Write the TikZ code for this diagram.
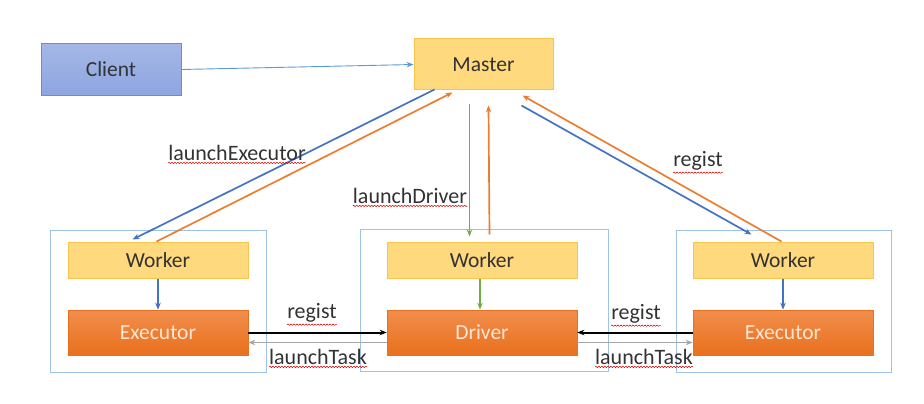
\documentclass[tikz,border=0pt]{standalone}
\usepackage{fontspec}
\setmainfont{Carlito}
\usetikzlibrary{arrows.meta,calc,decorations.pathmorphing}
\definecolor{txt}{HTML}{333333}
\definecolor{clientfill}{HTML}{8EA5E0}
\definecolor{clientdraw}{HTML}{6F8BD0}
\definecolor{mfill}{HTML}{FFD97E}
\definecolor{mdraw}{HTML}{F7C44E}
\definecolor{efill}{HTML}{EF7A2C}
\definecolor{edraw}{HTML}{E9701E}
\definecolor{etext}{HTML}{FCE6D6}
\definecolor{outer}{HTML}{9DC3E6}
\definecolor{cblue}{HTML}{4472C4}
\definecolor{corange}{HTML}{ED7D31}
\definecolor{cgreen}{HTML}{70AD47}
\definecolor{clight}{HTML}{5B9BD5}
\definecolor{cgray}{HTML}{A6A6A6}
\tikzset{
  x=1pt, y=-1pt,
  boxtext/.style={font=\fontsize{21.5}{25}\selectfont},
  clientbox/.style={boxtext, draw=clientdraw, line width=1pt, top color=clientfill!80!white, bottom color=clientfill, text=txt, minimum width=140pt, minimum height=51pt, inner sep=0pt},
  masterbox/.style={boxtext, draw=mdraw, line width=1pt, fill=mfill, text=txt, minimum width=139pt, minimum height=51pt, inner sep=0pt},
  workerbox/.style={boxtext, draw=mdraw, line width=1pt, fill=mfill, text=txt, minimum height=36pt, inner sep=0pt},
  execbox/.style={boxtext, draw=edraw, line width=0.6pt, top color=efill!85!white, bottom color=edraw, text=etext, minimum height=45pt, inner sep=0pt},
  outerbox/.style={draw=outer, line width=1pt, fill=none, inner sep=0pt},
  lbl/.style={font=\fontsize{22}{26}\selectfont, text=txt, inner sep=1pt},
  squig/.style={draw=red!85!black, line width=0.5pt, decorate, decoration={snake, amplitude=0.7pt, segment length=3pt}},
  tip/.style={-{Stealth[length=7pt,width=5.5pt]}},
  bluearrow/.style={tip, draw=cblue, line width=1.7pt},
  orangearrow/.style={tip, draw=corange, line width=1.7pt},
  greenarrow/.style={tip, draw=cgreen, line width=1.7pt},
  blackarrow/.style={tip, draw=black, line width=2pt},
  grayarrow/.style={tip, draw=cgray, line width=1.2pt},
  lightarrow/.style={tip, draw=clight, line width=0.9pt}
}
\begin{document}
\begin{tikzpicture}
\useasboundingbox (0,0) rectangle (924,404);
% outer containers
\node[outerbox, minimum width=216pt, minimum height=142pt] (lo) at (158,301) {};
\node[outerbox, minimum width=248pt, minimum height=142pt] (mo) at (484,300) {};
\node[outerbox, minimum width=215pt, minimum height=142pt] (ro) at (783.5,301) {};
% top nodes
\node[clientbox] (client) at (111,69.5) {Client};
\node[masterbox] (master) at (483.5,64.5) {Master};
% workers
\node[workerbox, minimum width=180pt] (lw) at (158,260) {Worker};
\node[workerbox, minimum width=190pt] (mw) at (482,260) {Worker};
\node[workerbox, minimum width=180pt] (rw) at (783,260) {Worker};
% executors / driver
\node[execbox, minimum width=180pt] (le) at (158,332.5) {Executor};
\node[execbox, minimum width=190pt] (dr) at (482,332.5) {Driver};
\node[execbox, minimum width=180pt] (re) at (783,332.5) {Executor};
% client -> master
\draw[lightarrow] (client.east) -- (master.west);
% master <-> left worker
\draw[bluearrow] ($(master.south west)+(21,-1)$) -- ($(lw.north west)+(65,-2)$);
\draw[orangearrow] ($(lw.north west)+(89,0)$) -- ($(master.south west)+(39,2)$);
% master <-> middle worker
\draw[greenarrow] ($(master.south west)+(56,13)$) -- ($(mw.north west)+(83,-5)$);
\draw[orangearrow] ($(mw.north west)+(103,-7)$) -- ($(master.south west)+(75,15)$);
% master <-> right worker
\draw[bluearrow] ($(master.south west)+(108,15)$) -- ($(rw.north west)+(59,-7)$);
\draw[orangearrow] ($(rw.north west)+(89,0)$) -- ($(master.south west)+(109,5)$);
% worker -> executor
\draw[bluearrow] (lw.south) -- (le.north);
\draw[greenarrow] ($(mw.south)+(-2,0)$) -- ($(dr.north)+(-2,0)$);
\draw[bluearrow] (rw.south) -- (re.north);
% executor <-> driver
\draw[blackarrow] (le.east) -- (dr.west);
\draw[grayarrow] ($(dr.west)+(0,10)$) -- ($(le.east)+(0,10)$);
\draw[blackarrow] (re.west) -- (dr.east);
\draw[grayarrow] ($(dr.east)+(0,10)$) -- ($(re.west)+(0,10)$);
% labels
\node[lbl] (l1) at (237,153) {launchExecutor};
\node[lbl] (l2) at (410,196) {launchDriver};
\node[lbl] (l3) at (698,161) {regist};
\node[lbl] (l4) at (312,313) {regist};
\node[lbl] (l5) at (318,357) {launchTask};
\node[lbl] (l6) at (636,314) {regist};
\node[lbl] (l7) at (644,357) {launchTask};
\foreach \n in {l1,l2,l3,l4,l5,l6,l7}{
  \draw[squig] ($(\n.south west)+(1,1)$) -- ($(\n.south east)+(-1,1)$);
}
\end{tikzpicture}
\end{document}
